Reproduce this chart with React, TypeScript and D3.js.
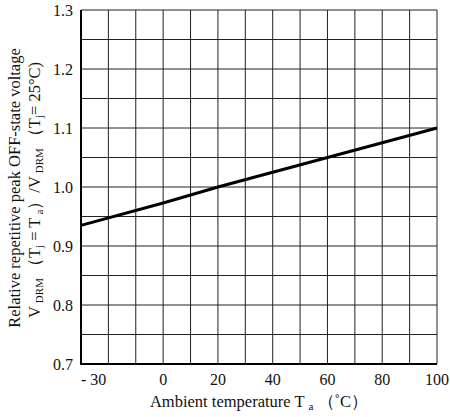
import { scaleLinear, line, range } from "d3";

// curve
const temps = [-30, 0, 20, 60, 100];
const ratios = [0.935, 0.973, 1.0, 1.05, 1.1];

const xTicks = [-30, 0, 20, 40, 60, 80, 100];
const yTicks = [0.7, 0.8, 0.9, 1.0, 1.1, 1.2, 1.3];

export default function App() {
  const width = 450,
    height = 417;
  const x = scaleLinear().domain([-30, 100]).range([81, 437]);
  const y = scaleLinear().domain([0.7, 1.3]).range([364, 10]);
  const font = "'Liberation Serif', 'Times New Roman', serif";

  const curve = line<number>()
    .x((d, i) => x(temps[i]))
    .y((d) => y(d));

  const vGrid = range(-30, 101, 10);
  const hGrid = range(0, 13).map((i) => 0.7 + i * 0.05);

  return (
    <svg
      width={width}
      height={height}
      style={{ position: "absolute", left: 0, top: 0, background: "#fff" }}
      fontFamily={font}
    >
      {hGrid.map((v, i) => (
        <line key={"h" + i} x1={x(-30)} x2={x(100)} y1={y(v)} y2={y(v)} stroke="#222" strokeWidth={1} />
      ))}
      {vGrid.map((v) => (
        <line key={"v" + v} x1={x(v)} x2={x(v)} y1={y(0.7)} y2={y(1.3)} stroke="#222" strokeWidth={1} />
      ))}
      {/* left and bottom frame */}
      <line x1={x(-30)} x2={x(-30)} y1={y(0.7) + 1} y2={y(1.3)} stroke="#000" strokeWidth={2} />
      <line x1={x(-30)} x2={x(100)} y1={y(0.7)} y2={y(0.7)} stroke="#000" strokeWidth={2} />

      <path d={curve(ratios) ?? ""} fill="none" stroke="#000" strokeWidth={3} />

      {yTicks.map((v) => (
        <text key={"yt" + v} x={73} y={y(v)} dy="0.35em" textAnchor="end" fontSize={16} fill="#111">
          {v.toFixed(1)}
        </text>
      ))}
      {xTicks.map((v) => (
        <text
          key={"xt" + v}
          x={x(v)}
          y={385}
          textAnchor={v === -30 ? "start" : "middle"}
          fontSize={16}
          fill="#111"
        >
          {v === -30 ? "- 30" : v}
        </text>
      ))}

      <text x={259} y={407} textAnchor="middle" fontSize={16.5} fill="#111">
        Ambient temperature T
        <tspan fontSize={11} dx={4} dy={3}>a</tspan>
        <tspan dy={-3}> （˚C）</tspan>
      </text>

      <g transform="translate(20,188) rotate(-90)">
        <text textAnchor="middle" fontSize={16.5} fill="#111">
          Relative repetitive peak OFF-state voltage
        </text>
      </g>
      <g transform="translate(40,190) rotate(-90)">
        <text textAnchor="middle" fontSize={16.5} fill="#111">
          V<tspan fontSize={11} dx={3} dy={3}>DRM</tspan>
          <tspan dy={-3} dx={3}>（T</tspan>
          <tspan fontSize={11} dy={3}>j</tspan>
          <tspan dy={-3}> = T</tspan>
          <tspan fontSize={11} dx={3} dy={3}>a</tspan>
          <tspan dy={-3}>）/V</tspan>
          <tspan fontSize={11} dx={3} dy={3}>DRM</tspan>
          <tspan dy={-3} dx={3}>（T</tspan>
          <tspan fontSize={11} dy={3}>j</tspan>
          <tspan dy={-3}>= 25°C)</tspan>
        </text>
      </g>
    </svg>
  );
}
